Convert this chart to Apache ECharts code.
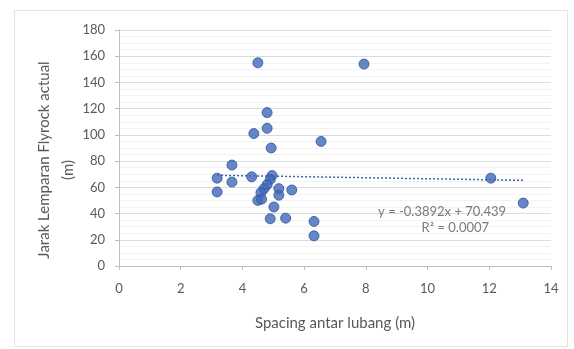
<!DOCTYPE html>
<html>
<head>
<meta charset="utf-8">
<script src="https://cdn.jsdelivr.net/npm/echarts@6/dist/echarts.min.js"></script>
<style>
html,body{margin:0;padding:0;background:#fff;}
#c{width:574px;height:349px;}
</style>
</head>
<body>
<div id="c"></div>
<script>
// Spacing antar lubang (m)
var spacing = [4.5, 7.94, 4.8, 4.8, 4.37, 4.93, 6.55, 3.66, 3.18, 3.66, 3.18, 4.3, 4.96, 4.9, 4.8, 4.7, 4.6, 4.5, 4.62, 5.18, 5.18, 5.6, 5.02, 4.9, 5.4, 6.32, 6.32, 12.05, 13.1];
// Jarak Lemparan Flyrock actual (m)
var jarak   = [155, 154, 117, 105, 101, 90, 95, 77, 67, 64, 56.5, 68, 69, 66, 62, 59, 56, 50, 51, 59, 54, 58, 45, 36, 36.5, 34, 23, 67, 48];
var xTicks = [0, 2, 4, 6, 8, 10, 12, 14];
var yTicks = [0, 20, 40, 60, 80, 100, 120, 140, 160, 180];
var trendSlope = -0.3892;
var trendIntercept = 70.439;
var eqLabel = 'y = -0.3892x + 70.439';
var r2Label = 'R² = 0.0007';
var yTitle1 = 'Jarak Lemparan Flyrock actual';
var yTitle2 = '(m)';

var pts = spacing.map(function(x, i){ return [x, jarak[i]]; });
var xmin = Math.min.apply(null, spacing), xmax = Math.max.apply(null, spacing);
var trend = [[xmin, trendSlope*xmin + trendIntercept], [xmax, trendSlope*xmax + trendIntercept]];

var font = 'Lato, "Open Sans", sans-serif';
var chart = echarts.init(document.getElementById('c'));
chart.setOption({
  animation: false,
  backgroundColor: '#fff',
  graphic: [{
    type: 'rect', left: 12, top: 8, silent: true,
    shape: {width: 553, height: 336},
    style: {fill: 'none', stroke: '#e3e3e3', lineWidth: 1}
  }, {
    type: 'text', x: 44, y: 160, rotation: Math.PI/2, silent: true,
    style: {text: yTitle1, fill: '#595959', font: '15px ' + font, textAlign: 'center', textVerticalAlign: 'middle'}
  }, {
    type: 'text', x: 68, y: 170, rotation: Math.PI/2, silent: true,
    style: {text: yTitle2, fill: '#595959', font: '15px ' + font, textAlign: 'center', textVerticalAlign: 'middle'}
  }],
  grid: {left: 119, right: 23, top: 30, bottom: 83},
  xAxis: {
    type: 'value', min: xTicks[0], max: xTicks[xTicks.length-1], interval: 2,
    name: 'Spacing antar lubang (m)', nameLocation: 'middle', nameGap: 50,
    nameTextStyle: {color: '#595959', fontSize: 15, fontFamily: font},
    axisLine: {show: true, lineStyle: {color: '#bfbfbf'}},
    axisTick: {show: true, length: 4, lineStyle: {color: '#bfbfbf'}},
    axisLabel: {color: '#595959', fontSize: 13, fontFamily: font, margin: 16},
    splitLine: {show: false}
  },
  yAxis: {
    type: 'value', min: yTicks[0], max: yTicks[yTicks.length-1], interval: 20,
    axisLine: {show: true, lineStyle: {color: '#bfbfbf'}},
    axisTick: {show: true, length: 4, lineStyle: {color: '#bfbfbf'}},
    axisLabel: {color: '#595959', fontSize: 13, fontFamily: font, margin: 14},
    splitLine: {show: true, lineStyle: {color: '#dcdcdc'}},
    minorTick: {show: false, splitNumber: 4},
    minorSplitLine: {show: true, lineStyle: {color: '#f2f2f2'}}
  },
  series: [{
    type: 'scatter', data: pts, symbol: 'circle', symbolSize: 10,
    itemStyle: {color: '#4068b8', borderColor: '#2f54a0', borderWidth: 1}
  }, {
    type: 'line', data: trend, symbol: 'none', silent: true,
    lineStyle: {color: '#3f63a8', width: 1.5, type: [2, 2]},
    z: 1
  }, {
    type: 'scatter', data: [[10.47, 41]], symbolSize: 0, silent: true,
    label: {show: true, position: 'inside', formatter: eqLabel,
      color: '#595959', fontSize: 13, fontFamily: font}
  }, {
    type: 'scatter', data: [[10.9, 29.5]], symbolSize: 0, silent: true,
    label: {show: true, position: 'inside', formatter: r2Label,
      color: '#595959', fontSize: 13, fontFamily: font}
  }]
});
</script>
</body>
</html>
